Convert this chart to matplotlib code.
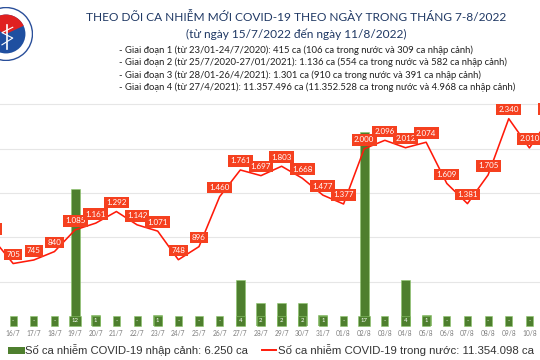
import matplotlib
matplotlib.use('Agg')
import matplotlib.pyplot as plt
import numpy as np
from matplotlib.patches import Rectangle, Circle, Wedge
from matplotlib.lines import Line2D

# data
dates = ['15/7', '16/7', '17/7', '18/7', '19/7', '20/7', '21/7', '22/7', '23/7',
         '24/7', '25/7', '26/7', '27/7', '28/7', '29/7', '30/7', '31/7',
         '01/8', '02/8', '03/8', '04/8', '05/8', '06/8', '07/8', '08/8',
         '09/8', '10/8', '11/8']
domestic = [990, 705, 745, 840, 1085, 1161, 1292, 1142, 1071, 748, 896, 1460,
            1761, 1697, 1803, 1668, 1477, 1377, 2000, 2096, 2012, 2074, 1609,
            1381, 1705, 2340, 2010, 2350]
imported = [0, 0, 0, 0, 12, 1, 0, 0, 1, 0, 0, 0, 4, 2, 2, 2, 1, 0, 17, 0, 4, 1,
            0, 0, 0, 0, 0, 0]

title = 'THEO DÕI CA NHIỄM MỚI COVID-19 THEO NGÀY TRONG THÁNG 7-8/2022'
subtitle = '(từ ngày 15/7/2022 đến ngày 11/8/2022)'
notes = [
    '- Giai đoạn 1 (từ 23/01-24/7/2020): 415 ca (106 ca trong nước và 309 ca nhập cảnh)',
    '- Giai đoạn 2 (từ 25/7/2020-27/01/2021): 1.136 ca (554 ca trong nước và 582 ca nhập cảnh)',
    '- Giai đoạn 3 (từ 28/01-26/4/2021): 1.301 ca (910 ca trong nước và 391 ca nhập cảnh)',
    '- Giai đoạn 4 (từ 27/4/2021): 11.357.496 ca (11.352.528 ca trong nước và 4.968 ca nhập cảnh)',
]
legend_bar = 'Số ca nhiễm COVID-19 nhập cảnh: 6.250 ca'
legend_line = 'Số ca nhiễm COVID-19 trong nước: 11.354.098 ca'

W, H = 540, 360
def fx(px):
    return px / W
def fy(py):
    return 1 - py / H

navy = '#1f3864'
bar_green = '#4e7f2e'
red = '#ff1a0a'
label_red = '#f5401f'
line_max = 2641
bar_max = 20.5

fig = plt.figure(figsize=(5.4, 3.6), dpi=100)
ax = fig.add_axes([0, fy(326), 1, fy(92) - fy(326)])
ax2 = ax.twinx()

x = np.arange(len(dates))

# bars (imported cases)
ax.bar(x, imported, width=0.44, color=bar_green, edgecolor='#8cc66a',
       linewidth=0.4, zorder=2)
ax.set_ylim(0, bar_max)
ax.set_yticks(np.arange(500, 3000, 500) * bar_max / line_max)
ax.grid(axis='y', color='#e6e6e6', linewidth=0.8, zorder=0)
ax.set_axisbelow(True)
for i, v in enumerate(imported):
    ax.annotate(str(v) if v else '-', (i, 0), xytext=(0, 3.6),
                textcoords='offset points', ha='center', va='center',
                fontsize=4.3, color='white', family='Lato',
                annotation_clip=False,
                bbox=dict(boxstyle='square,pad=0.4', fc=bar_green,
                          ec='#8cc66a', lw=0.4))

# line (domestic cases)
ax2.plot(x, domestic, color=red, linewidth=1.15, zorder=3)
ax2.set_ylim(0, line_max)
for i, v in enumerate(domestic):
    txt = '{:,}'.format(v).replace(',', '.')
    ax2.annotate(txt, (i, v), xytext=(0, 6.5), textcoords='offset points',
                 ha='center', va='center', fontsize=5.8, color='white',
                 family='Lato', annotation_clip=False, zorder=4 + i,
                 bbox=dict(boxstyle='square,pad=0.28', fc=label_red, ec='none'))

ax.set_xlim(7.5 / 20.65, 547.5 / 20.65)
# first and last day sit outside the visible frame, like in the source image
ax.set_xticks(x[1:-1])
ax.set_xticklabels(dates[1:-1], fontsize=4.8, color='#7f7f7f', family='Lato')
ax.tick_params(axis='x', length=0, pad=3)
ax.tick_params(axis='y', length=0, labelleft=False)
ax2.tick_params(axis='y', length=0, labelright=False)
for a in (ax, ax2):
    for s in a.spines.values():
        s.set_visible(False)

# titles and notes
fig.text(fx(296), fy(17), title, ha='center', va='center', fontsize=8.6,
         color=navy, family='Lato')
fig.text(fx(296), fy(34), subtitle, ha='center', va='center', fontsize=8.6,
         color=navy, family='Lato')
for k, line in enumerate(notes):
    fig.text(fx(119), fy(50 + 12.5 * k), line, ha='left', va='center',
             fontsize=6.85, color='#222222', family='Lato')

# logo
lax = fig.add_axes([fx(-21), fy(61), fx(54), fy(7) - fy(61)])
lax.set_xlim(-1, 1)
lax.set_ylim(-1, 1)
lax.set_aspect('equal')
lax.axis('off')
lax.add_patch(Circle((0, 0), 0.98, fc='white', ec='#2a4f9a', lw=1))
lax.add_patch(Circle((0, 0), 0.72, fc='#1f4fa0', ec='none'))
lax.add_patch(Wedge((0, 0), 0.72, 25, 155, fc='#e02020', ec='none'))
lax.plot([0.05, 0.05], [-0.55, 0.35], color='white', lw=1.2)
lax.plot([-0.15, 0.25, -0.15, 0.25], [-0.4, -0.15, 0.05, 0.25], color='white', lw=0.8)

# legend
fig.add_artist(Rectangle((fx(8), fy(353.5)), fx(17), fy(346.5) - fy(353.5),
                         transform=fig.transFigure, fc=bar_green, ec='none'))
fig.text(fx(25), fy(350), legend_bar, ha='left', va='center', fontsize=8.1,
         color='#333333', family='Liberation Sans')
fig.add_artist(Line2D([fx(262), fx(276)], [fy(350), fy(350)],
                      transform=fig.transFigure, color=red, lw=1.4))
fig.text(fx(278), fy(350), legend_line, ha='left', va='center', fontsize=8.2,
         color='#333333', family='Liberation Sans')

fig.savefig('out.png', dpi=100)
